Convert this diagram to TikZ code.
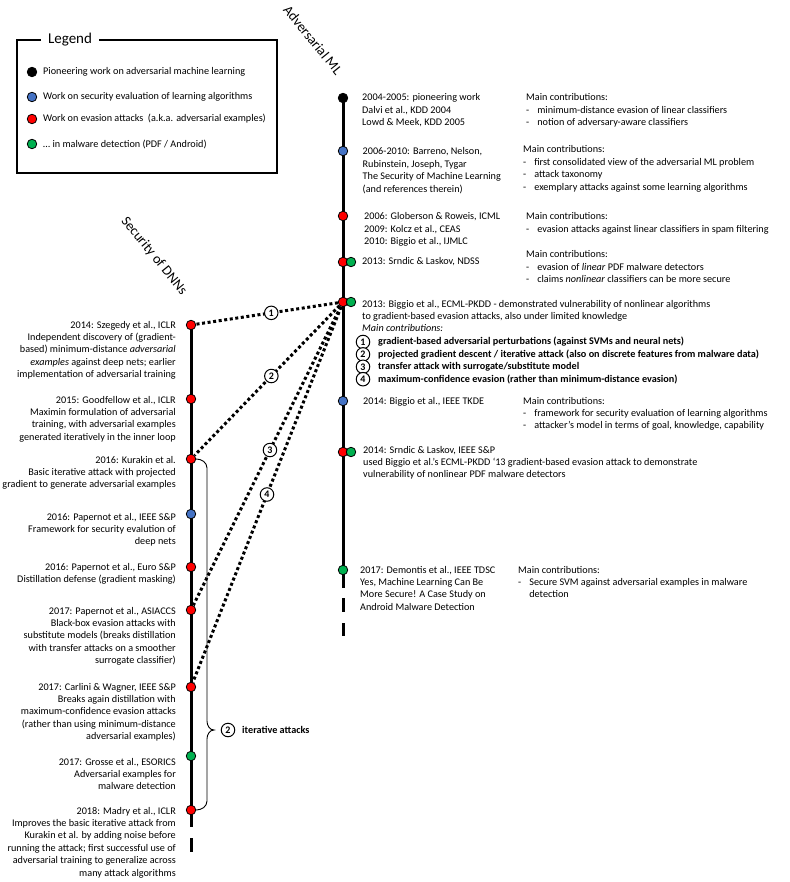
\documentclass[tikz,border=0pt]{standalone}
\usepackage{fontspec}
\setmainfont{Carlito}
\usetikzlibrary{positioning,backgrounds}

\definecolor{evblue}{RGB}{68,114,196}
\definecolor{evred}{RGB}{255,0,0}
\definecolor{evgreen}{RGB}{0,176,80}

% multi-line texts whose base is the first line
\newcommand{\linesL}[1]{\begin{tabular}[t]{@{}l@{}}#1\end{tabular}}
\newcommand{\linesR}[1]{\begin{tabular}[t]{@{}r@{}}#1\end{tabular}}
\newcommand{\maincontrib}[1]{%
  \begin{tabular}[t]{@{}l@{\hspace{8pt}}l@{}}
    \multicolumn{2}{@{}l@{}}{Main contributions:}\\
    #1
  \end{tabular}}

\begin{document}
\begin{tikzpicture}[
    x=1pt, y=-1pt,
    txt/.style={font=\fontsize{10.2}{12.4}\selectfont, inner sep=0pt},
    evR/.style={txt, anchor=base west},
    evL/.style={txt, anchor=base east},
    dot/.style={circle, draw=black, line width=0.8pt, minimum size=9.5pt, inner sep=0pt},
    pdot/.style={dot, fill=black},
    sdot/.style={dot, fill=evblue},
    adot/.style={dot, fill=evred},
    mdot/.style={dot, fill=evgreen},
    num/.style={circle, draw=black, solid, fill=white, line width=1pt, inner sep=0pt,
                minimum size=13.5pt, font=\fontsize{10}{10}\selectfont\bfseries},
    bold/.style={txt, anchor=west, font=\fontsize{10.2}{12.4}\selectfont\bfseries},
    tline/.style={line width=3pt},
    attack/.style={line width=3pt, dash pattern=on 3pt off 2.6pt},
    rotlbl/.style={font=\fontsize{14}{16}\selectfont, rotate=-51},
  ]
    %% page = 789 x 882 px
    \useasboundingbox (0,0) rectangle (789,882);
    \def\xR{343}   % Adversarial ML timeline
    \def\xL{191}   % Security of DNNs timeline

    %% --- legend ---
    \draw[line width=1.3pt] (17,40) rectangle (277,173);
    \node[font=\fontsize{15}{17}\selectfont, fill=white, inner xsep=7pt] (legtitle) at (70,40) {Legend};
    \node[pdot] (lg1) at (32,72) {};
    \node[sdot] (lg2) at (32,97) {};
    \node[adot] (lg3) at (32,119) {};
    \node[mdot] (lg4) at (32,144) {};
    \node[txt, anchor=west] (lgt1) at (43,72) {Pioneering work on adversarial machine learning};
    \node[txt, anchor=west] (lgt2) at (43,97) {Work on security evaluation of learning algorithms};
    \node[txt, anchor=west] (lgt3) at (43,119) {Work on evasion attacks\ \ (a.k.a. adversarial examples)};
    \node[txt, anchor=west] (lgt4) at (43,144) {\dots\ in malware detection (PDF / Android)};

    %% --- titles ---
    \node[rotlbl] (advml) at (313,40) {Adversarial ML};
    \node[rotlbl] (secdnn) at (154,256) {Security of DNNs};

    %% ============================================================
    %% Adversarial ML (right timeline)
    %% ============================================================
    \node[pdot] (r04) at (\xR,98) {};
    \node[sdot] (r06) at (\xR,151) {};
    \node[adot] (r09) at (\xR,216) {};
    \node[adot] (r13) at (\xR,262) {};
    \node[mdot] (r13m) at (\xR+8,262) {};
    \node[adot] (r13b) at (\xR,302) {};
    \node[mdot] (r13bm) at (\xR+8,302) {};
    \node[sdot] (r14) at (\xR,401) {};
    \node[adot] (r14b) at (\xR,452) {};
    \node[mdot] (r14bm) at (\xR+8,452) {};
    \node[mdot] (r17) at (\xR,570) {};
    \coordinate (rend) at (\xR,588);
    \coordinate (rtail) at (\xR,598);
    \coordinate (rtailend) at (\xR,636);

    \node[evR] (t04) at (362,101)
      {\linesL{2004-2005: pioneering work\\Dalvi et al., KDD 2004\\Lowd \& Meek, KDD 2005}};
    \node[evR] (c04) at (526,101) {\maincontrib{
      - & minimum-distance evasion of linear classifiers\\
      - & notion of adversary-aware classifiers}};

    \node[evR] (t06) at (362.5,155)
      {\linesL{2006-2010: Barreno, Nelson,\\Rubinstein, Joseph, Tygar\\The Security of Machine Learning\\(and references therein)}};
    \node[evR] (c06) at (523,153) {\maincontrib{
      - & first consolidated view of the adversarial ML problem\\
      - & attack taxonomy\\
      - & exemplary attacks against some learning algorithms}};

    \node[evR] (t09) at (364,220)
      {\linesL{2006: Globerson \& Roweis, ICML\\2009: Kolcz et al., CEAS\\2010: Biggio et al., IJMLC}};
    \node[evR] (c09) at (526,220) {\maincontrib{
      - & evasion attacks against linear classifiers in spam filtering}};

    \node[evR] (t13) at (362,265) {2013: Srndic \& Laskov, NDSS};
    \node[evR] (c13) at (526,258) {\maincontrib{
      - & evasion of \textit{linear} PDF malware detectors\\
      - & claims \textit{nonlinear} classifiers can be more secure}};

    \node[evR] (t13b) at (362,307)
      {\linesL{2013: Biggio et al., ECML-PKDD - demonstrated vulnerability of nonlinear algorithms\\
       to gradient-based evasion attacks, also under limited knowledge\\
       \textit{Main contributions:}}};
    %% circled contributions 1-4
    \node[num] (k1) at (363,342) {1};
    \node[num] (k2) at (363,354.4) {2};
    \node[num] (k3) at (363,366.8) {3};
    \node[num] (k4) at (363,379.2) {4};
    \node[bold] (kt1) at (378,342)
      {gradient-based adversarial perturbations (against SVMs and neural nets)};
    \node[bold] (kt2) at (378,354.4)
      {projected gradient descent / iterative attack (also on discrete features from malware data)};
    \node[bold] (kt3) at (378,366.8)
      {transfer attack with surrogate/substitute model};
    \node[bold] (kt4) at (378,379.2)
      {maximum-confidence evasion (rather than minimum-distance evasion)};

    \node[evR] (t14) at (363,404) {2014: Biggio et al., IEEE TKDE};
    \node[evR] (c14) at (523,404) {\maincontrib{
      - & framework for security evaluation of learning algorithms\\
      - & attacker’s model in terms of goal, knowledge, capability}};

    \node[evR] (t14b) at (363,453)
      {\linesL{2014: Srndic \& Laskov, IEEE S\&P\\
       used Biggio et al.’s ECML-PKDD ‘13 gradient-based evasion attack to demonstrate\\
       vulnerability of nonlinear PDF malware detectors}};

    \node[evR] (t17) at (360,573)
      {\linesL{2017: Demontis et al., IEEE TDSC\\Yes, Machine Learning Can Be\\More Secure! A Case Study on\\Android Malware Detection}};
    \node[evR] (c17) at (518,573) {\maincontrib{
      - & Secure SVM against adversarial examples in malware\\
        & detection}};

    %% ============================================================
    %% Security of DNNs (left timeline)
    %% ============================================================
    \node[adot] (l14) at (\xL,325) {};
    \node[adot] (l15) at (\xL,399) {};
    \node[adot] (l16a) at (\xL,459) {};
    \node[sdot] (l16b) at (\xL,514) {};
    \node[adot] (l16c) at (\xL,567) {};
    \node[adot] (l17a) at (\xL,610) {};
    \node[adot] (l17b) at (\xL,687) {};
    \node[mdot] (l17c) at (\xL,756) {};
    \node[adot] (l18) at (\xL,810) {};
    \coordinate (lend) at (\xL,827);
    \coordinate (ltail) at (\xL,838);
    \coordinate (ltailend) at (\xL,852);

    \node[evL] (s14) at (176,328)
      {\linesR{2014: Szegedy et al., ICLR\\Independent discovery of (gradient-\\based) minimum-distance \textit{adversarial}\\
       \textit{examples} against deep nets; earlier\\implementation of adversarial training}};
    \node[evL] (s15) at (176,403)
      {\linesR{2015: Goodfellow et al., ICLR\\Maximin formulation of adversarial\\training, with adversarial examples\\generated iteratively in the inner loop}};
    \node[evL] (s16a) at (176,463)
      {\linesR{2016: Kurakin et al.\\Basic iterative attack with projected\\gradient to generate adversarial examples}};
    \node[evL] (s16b) at (176,520)
      {\linesR{2016: Papernot et al., IEEE S\&P\\Framework for security evalution of\\deep nets}};
    \node[evL] (s16c) at (176,570)
      {\linesR{2016: Papernot et al., Euro S\&P\\Distillation defense (gradient masking)}};
    \node[evL] (s17a) at (176,614)
      {\linesR{2017: Papernot et al., ASIACCS\\Black-box evasion attacks with\\substitute models (breaks distillation\\
       with transfer attacks on a smoother\\surrogate classifier)}};
    \node[evL] (s17b) at (176,690)
      {\linesR{2017: Carlini \& Wagner, IEEE S\&P\\Breaks again distillation with\\maximum-confidence evasion attacks\\
       (rather than using minimum-distance\\adversarial examples)}};
    \node[evL] (s17c) at (176,765)
      {\linesR{2017: Grosse et al., ESORICS\\Adversarial examples for\\malware detection}};
    \node[evL] (s18) at (176,814)
      {\linesR{2018: Madry et al., ICLR\\Improves the basic iterative attack from\\Kurakin et al. by adding noise before\\
       running the attack; first successful use of\\adversarial training to generalize across\\many attack algorithms}};

    %% --- timelines (behind the dots) ---
    \begin{scope}[on background layer]
      \draw[tline] (r04.center) -- (rend);
      \draw[tline, dash pattern=on 14pt off 11pt] (rtail) -- (rtailend);
      \draw[tline] (l14.center) -- (lend);
      \draw[tline] (ltail) -- (ltailend);
    \end{scope}

    %% --- links 1-4 from Biggio et al. 2013 ---
    \draw[attack] (r13b) -- node[num, pos=0.47] (n1) {1} (l14);
    \draw[attack] (r13b) -- node[num, pos=0.47] (n2) {2} (l16a);
    \draw[attack] (r13b) -- node[num, pos=0.48] (n3) {3} (l17a);
    \draw[attack] (r13b) -- node[num, pos=0.50] (n4) {4} (l17b);

    %% --- iterative attacks bracket ---
    \coordinate (brtip) at (214,730);
    \draw[line width=0.9pt] (l16a.east) to[out=0, in=90] (207,468) -- (207,721)
      to[out=-90, in=180] (brtip) to[out=180, in=90] (207,739) -- (207,801)
      to[out=-90, in=0] (l18.east);
    \node[num] (n2b) at (228,730) {2};
    \node[bold] (iter) at (242,730) {iterative attacks};

  \end{tikzpicture}
\end{document}
